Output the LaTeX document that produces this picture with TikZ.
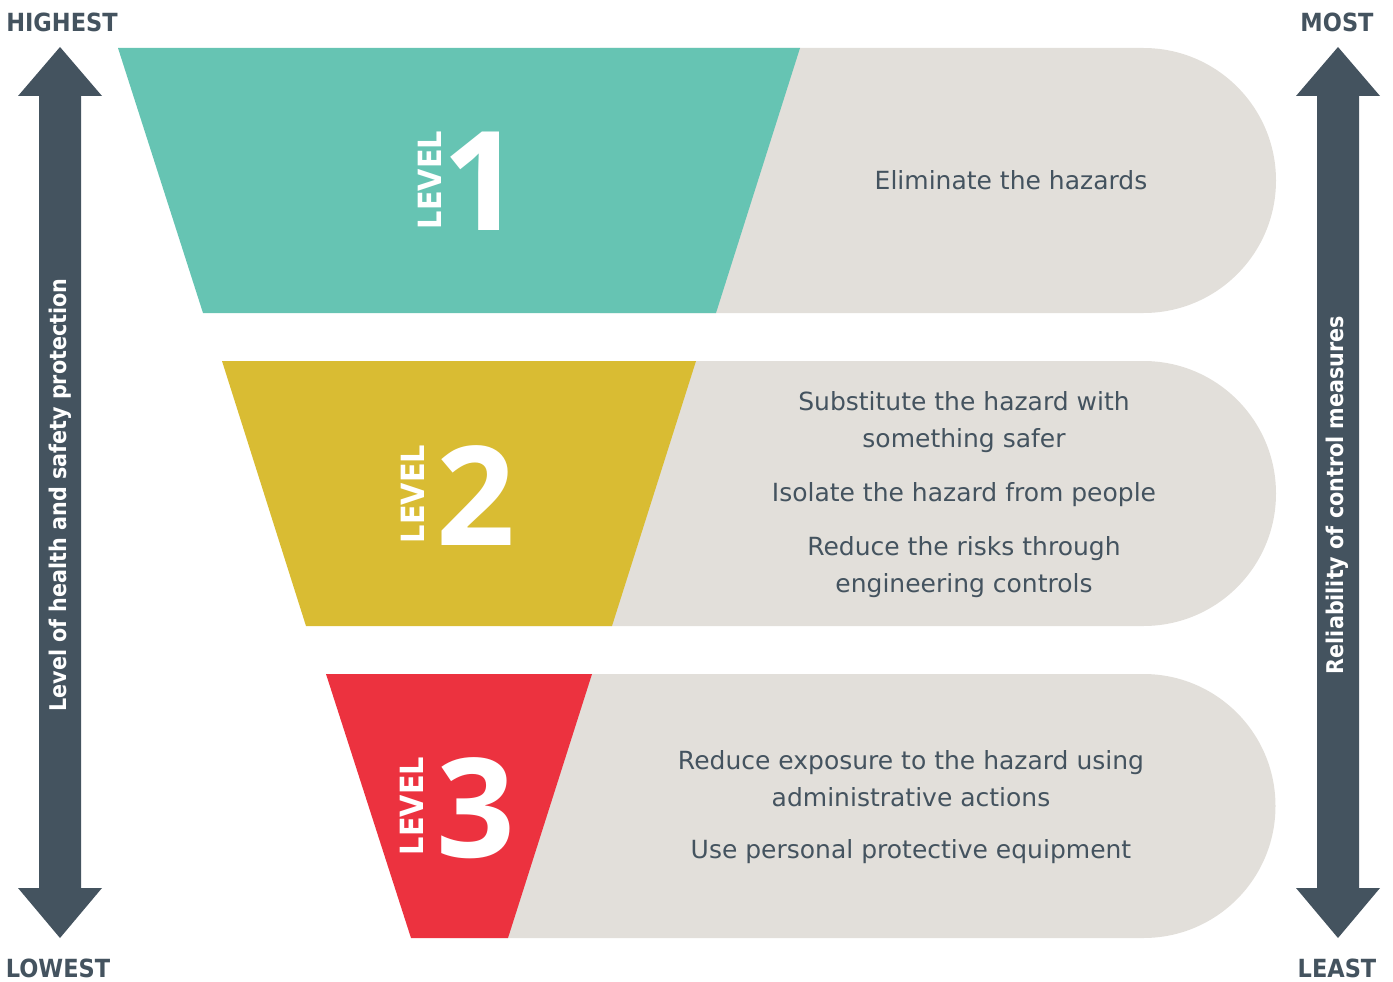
\documentclass[tikz,border=0pt]{standalone}
\usepackage{fontspec}
\setmainfont{DejaVu Sans}
\newfontfamily\condfont{DejaVu Sans Condensed}
\newfontfamily\digitfont{Open Sans}
\definecolor{slate}{HTML}{44535F}
\definecolor{bandgray}{HTML}{E2DFDA}
\definecolor{teal1}{HTML}{66C4B3}
\definecolor{yellow2}{HTML}{D9BC33}
\definecolor{red3}{HTML}{EC323F}
\tikzset{
  bandbg/.style={fill=bandgray},
  bodytext/.style={text=slate, align=center, inner sep=0pt, font=\fontsize{25}{37}\selectfont},
  levelword/.style={text=white, rotate=90, inner sep=0pt, font=\condfont\bfseries\fontsize{32}{32}\selectfont},
  levelnum/.style={text=white, draw=white, line width=2pt, anchor=base, inner sep=0pt, font=\digitfont\bfseries\fontsize{138}{138}\selectfont},
  corner/.style={text=slate, inner sep=0pt, font=\condfont\bfseries\fontsize{25}{25}\selectfont},
  sidelabel/.style={text=white, rotate=90, inner sep=0pt, font=\condfont\bfseries\fontsize{23}{23}\selectfont},
}
\begin{document}
\begin{tikzpicture}[x=1pt,y=-1pt]
\useasboundingbox (0,0) rectangle (1393,982);
% bands
\fill[bandbg] (600,48) -- (1143.5,48) arc[start angle=-90, end angle=90, radius=132.5] -- (600,313) -- cycle;
\fill[bandbg] (500,361) -- (1143.5,361) arc[start angle=-90, end angle=90, radius=132.5] -- (500,626) -- cycle;
\fill[bandbg] (450,674) -- (1143.5,674) arc[start angle=-90, end angle=90, radius=132] -- (450,938) -- cycle;
% trapezoids
\fill[teal1] (118,48) -- (800,48) -- (716,313) -- (203,313) -- cycle;
\fill[yellow2] (222,361) -- (696,361) -- (612,626) -- (306,626) -- cycle;
\fill[red3] (326,674) -- (592,674) -- (508,938) -- (411,938) -- cycle;
% level labels
\node[levelword] (lw1) at (430,180) {LEVEL};
\node[levelnum, draw=none] (ln1) at (482,230) {1};
\node[levelword] (lw2) at (413,494) {LEVEL};
\node[levelnum, draw=none] (ln2) at (476,545) {2};
\node[levelword] (lw3) at (412,806) {LEVEL};
\node[levelnum, draw=none] (ln3) at (476,857) {3};
% texts
\node[bodytext] (t1) at (1011,180) {Eliminate the hazards};
\node[bodytext] (t2a) at (964,422) {Substitute the hazard with\\something safer};
\node[bodytext] (t2b) at (964,495) {Isolate the hazard from people};
\node[bodytext] (t2c) at (964,567) {Reduce the risks through\\engineering controls};
\node[bodytext] (t3a) at (911,779) {Reduce exposure to the hazard using\\administrative actions};
\node[bodytext] (t3b) at (911,852) {Use personal protective equipment};
% side arrows
\fill[slate] (60,47) -- (102,96) -- (81,96) -- (81,888) -- (102,888) -- (60,938) -- (18,888) -- (39,888) -- (39,96) -- (18,96) -- cycle;
\fill[slate] (1338,47) -- (1380,96) -- (1359,96) -- (1359,888) -- (1380,888) -- (1338,938) -- (1296,888) -- (1317,888) -- (1317,96) -- (1296,96) -- cycle;
\node[sidelabel] (ll) at (60,495) {Level of health and safety protection};
\node[sidelabel] (rl) at (1337,495) {Reliability of control measures};
% corner labels
\node[corner] (hi) at (62,22) {HIGHEST};
\node[corner] (lo) at (58,968) {LOWEST};
\node[corner] (mo) at (1337,22) {MOST};
\node[corner] (le) at (1337,968) {LEAST};
\end{tikzpicture}
\end{document}
